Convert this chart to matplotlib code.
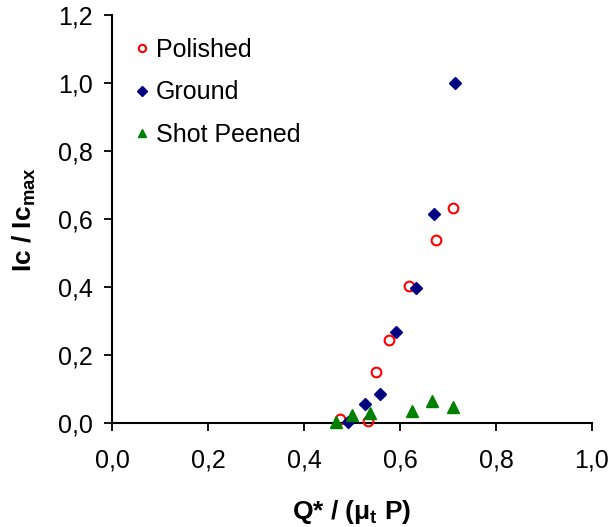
import matplotlib
matplotlib.use("Agg")
import matplotlib.pyplot as plt
import matplotlib.ticker as ticker

plt.rcParams['font.family'] = ['Liberation Sans', 'DejaVu Sans']
plt.rcParams['mathtext.fontset'] = 'custom'
plt.rcParams['mathtext.rm'] = 'Liberation Sans'
plt.rcParams['mathtext.bf'] = 'Liberation Sans:bold'

# data
polished_x = [0.476, 0.533, 0.549, 0.578, 0.619, 0.674, 0.711]
polished_y = [0.012, 0.005, 0.149, 0.244, 0.403, 0.538, 0.633]

ground_x = [0.491, 0.528, 0.558, 0.591, 0.633, 0.670, 0.715]
ground_y = [0.004, 0.056, 0.085, 0.267, 0.396, 0.615, 1.000]

peened_x = [0.466, 0.499, 0.537, 0.624, 0.666, 0.711]
peened_y = [0.004, 0.024, 0.030, 0.036, 0.066, 0.048]


def comma(v, pos):
    return ("%.1f" % v).replace(".", ",")


fig = plt.figure(figsize=(6.11, 5.27), dpi=100)
ax = fig.add_axes([0.1833, 0.1973, 0.7856, 0.7742])

ax.plot(polished_x, polished_y, 'o', ms=7, mfc='none', mec='#FF0000', mew=1.5,
        label='Polished', clip_on=False, zorder=3)
ax.plot(ground_x, ground_y, 'D', ms=6.5, color='#000080',
        label='Ground', clip_on=False, zorder=3)
ax.plot(peened_x, peened_y, '^', ms=8.5, color='#008000',
        label='Shot Peened', clip_on=False, zorder=3)

ax.set_xlim(0, 1.0)
ax.set_ylim(0, 1.2)
ax.xaxis.set_major_locator(ticker.MultipleLocator(0.2))
ax.yaxis.set_major_locator(ticker.MultipleLocator(0.2))
ax.xaxis.set_major_formatter(ticker.FuncFormatter(comma))
ax.yaxis.set_major_formatter(ticker.FuncFormatter(comma))

for s in ['top', 'right']:
    ax.spines[s].set_visible(False)
for s in ['left', 'bottom']:
    ax.spines[s].set_linewidth(1.5)

ax.tick_params(direction='out', length=6, width=1.3, labelsize=18)
ax.tick_params(axis='x', pad=12)
ax.tick_params(axis='y', pad=8)

ax.set_xlabel(r'Q* / ($\mathbf{\mu_t}$ P)', fontsize=19, fontweight='bold', labelpad=19)
ax.set_ylabel(r'Ic / Ic$_{\mathbf{max}}$', fontsize=19, fontweight='bold', labelpad=14)

ax.legend(loc='upper left', bbox_to_anchor=(-0.008, 1.0), frameon=False,
          fontsize=18, handletextpad=0.1, labelspacing=0.75, markerscale=0.75,
          handlelength=0.9)

fig.savefig('out.png', dpi=100)
